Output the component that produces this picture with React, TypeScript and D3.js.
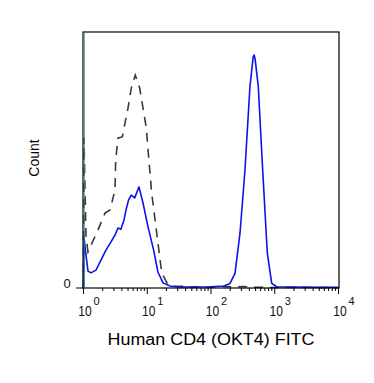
import { useEffect, useRef } from 'react';
import * as d3 from 'd3';

// isotype control (dashed) - FITC intensity / count (% of max)
const isoFitc = [1.0, 1.018, 1.094, 1.177, 1.689, 2.175, 2.604, 3.12, 3.2, 3.475, 4.06, 4.32, 4.99, 5.62, 6.49, 7.61, 8.58, 9.66, 10.4, 11.74, 14.07, 16.86, 20.4, 27.2, 45, 90, 160, 230, 320, 500, 1000, 3000, 10000];
const isoCount = [0, 58.6, 20, 14.1, 22.7, 29.3, 30.5, 38.3, 50, 58.6, 59, 62.5, 70.3, 78.1, 83.2, 78.1, 70.3, 62.5, 52.6, 37, 21.5, 5.9, 2.0, 0.8, 0.5, 0.3, 0.6, 0.4, 0.6, 0.3, 0.2, 0.2, 0.1];

// OKT4 stained (solid blue)
const cd4Fitc = [1.0, 1.018, 1.094, 1.177, 1.311, 1.57, 1.88, 2.25, 2.7, 3.12, 3.475, 3.87, 4.32, 4.65, 5.09, 5.62, 6.35, 7.42, 8.58, 10.3, 12.6, 14.7, 17.66, 22.7, 30.3, 50, 100, 160, 199, 238, 285, 341, 408, 460, 473, 491, 552, 647, 765, 896, 1072, 2000, 5000, 10000];
const cd4Count = [0, 19.9, 12.9, 6.6, 5.9, 7, 10.9, 14.8, 18, 20.7, 23.4, 23, 26.6, 30.5, 34.4, 36.3, 35.2, 39.5, 33.2, 23.8, 14.8, 6.25, 2.0, 0.8, 0.4, 0.4, 0.5, 0.8, 1.8, 5.7, 21.4, 46, 78.6, 90.4, 91, 89.7, 78.6, 46, 13.6, 1.8, 0.5, 0.4, 0.3, 0.3];

const decades = [0, 1, 2, 3, 4];
const xTitle = 'Human CD4 (OKT4) FITC';
const yTitle = 'Count';

export default function App() {
  const svgRef = useRef<SVGSVGElement>(null);

  useEffect(() => {
    if (!svgRef.current) return;
    const svg = d3.select(svgRef.current);
    svg.selectAll('*').remove();

    const left = 83, top = 32, right = 339, bottom = 288;
    const font = 'Liberation Sans, Arial, sans-serif';

    const x = d3.scaleLog().domain([1, 10000]).range([left + 0.5, right - 0.5]);
    const y = d3.scaleLinear().domain([0, 100]).range([bottom, top]);

    const line = d3.line<[number, number]>()
      .x(d => x(d[0]))
      .y(d => y(d[1]));

    // histograms
    svg.append('path')
      .datum(isoFitc.map((v, i) => [v, isoCount[i]] as [number, number]))
      .attr('fill', 'none')
      .attr('stroke', '#3a3a3a')
      .attr('stroke-width', 1.6)
      .attr('stroke-dasharray', '9,7')
      .attr('d', line);

    svg.append('path')
      .datum(cd4Fitc.map((v, i) => [v, cd4Count[i]] as [number, number]))
      .attr('fill', 'none')
      .attr('stroke', '#1010f0')
      .attr('stroke-width', 1.6)
      .attr('stroke-linejoin', 'round')
      .attr('d', line);

    // frame
    svg.append('rect')
      .attr('x', left).attr('y', top)
      .attr('width', right - left).attr('height', bottom - top)
      .attr('fill', 'none')
      .attr('stroke', '#000')
      .attr('stroke-width', 1.2);

    // teal line along left edge
    svg.append('line')
      .attr('x1', left + 1.2).attr('x2', left + 1.2)
      .attr('y1', top).attr('y2', bottom)
      .attr('stroke', '#2f8f80')
      .attr('stroke-width', 1);

    // x ticks
    decades.forEach(d => {
      const ks = d < 4 ? d3.range(1, 10) : [1];
      ks.forEach(k => {
        const px = x(k * Math.pow(10, d));
        svg.append('line')
          .attr('x1', px).attr('x2', px)
          .attr('y1', bottom).attr('y2', bottom + (k === 1 ? 6 : 3))
          .attr('stroke', '#000')
          .attr('stroke-width', 1);
      });
      const px = x(Math.pow(10, d));
      svg.append('text')
        .attr('x', px + 1.5).attr('y', 316)
        .attr('text-anchor', 'middle')
        .attr('font-family', font)
        .attr('font-size', 14)
        .attr('textLength', 13.4)
        .attr('lengthAdjust', 'spacingAndGlyphs')
        .attr('fill', '#111')
        .text('10');
      svg.append('text')
        .attr('x', px + 10).attr('y', 305)
        .attr('font-family', font)
        .attr('font-size', 11)
        .attr('fill', '#111')
        .text(String(d));
    });

    // y tick at 0
    svg.append('line')
      .attr('x1', left - 7).attr('x2', left)
      .attr('y1', y(0)).attr('y2', y(0))
      .attr('stroke', '#000');
    svg.append('text')
      .attr('x', 67).attr('y', 288)
      .attr('text-anchor', 'middle')
      .attr('font-family', font)
      .attr('font-size', 13)
      .attr('fill', '#111')
      .text('0');

    // axis titles
    svg.append('text')
      .attr('x', (left + right) / 2).attr('y', 345)
      .attr('text-anchor', 'middle')
      .attr('font-family', font)
      .attr('font-size', 16)
      .attr('textLength', 207)
      .attr('lengthAdjust', 'spacingAndGlyphs')
      .attr('fill', '#000')
      .text(xTitle);

    svg.append('text')
      .attr('transform', `translate(38.5, ${(top + bottom) / 2 - 2}) rotate(-90)`)
      .attr('text-anchor', 'middle')
      .attr('font-family', font)
      .attr('font-size', 14)
      .attr('fill', '#000')
      .text(yTitle);
  }, []);

  return (
    <svg
      ref={svgRef}
      width={374}
      height={383}
      style={{ position: 'absolute', left: 0, top: 0, background: '#fff' }}
    />
  );
}
